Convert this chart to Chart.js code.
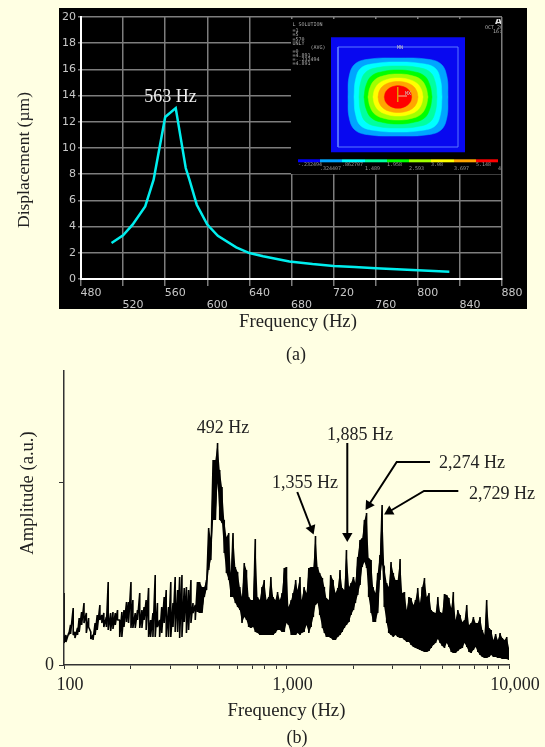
<!DOCTYPE html>
<html>
<head>
<meta charset="utf-8">
<title>Frequency response</title>
<script src="https://cdn.jsdelivr.net/npm/chart.js@4"></script>
<style>
    html, body { margin: 0; padding: 0; background: #FFFFE3; width: 545px; height: 747px; overflow: hidden; }
    canvas { position: absolute; left: 0; display: block; }
    .caption { position: absolute; font: 18px "Liberation Serif", serif; color: #222; transform: translateX(-50%); }
</style>
</head>
<body>
<canvas id="simChart" width="545" height="333" style="top:0"></canvas>
<canvas id="insetChart" width="210" height="155" style="left:291px;top:19px"></canvas>
<canvas id="spectrumChart" width="545" height="375" style="top:347px"></canvas>
<div class="caption" style="left:296px;top:344px">(a)</div>
<div class="caption" style="left:297px;top:727px">(b)</div>

<script>
// (a) simulated response
const simFreq = [509, 520, 529, 541, 549, 560, 570, 579.5, 583, 590, 600, 610, 627.5, 640, 653, 678, 700, 720, 740, 760, 780, 800, 830];
const simDisp = [2.75, 3.33, 4.15, 5.54, 7.58, 12.37, 13.05, 8.47, 7.58, 5.67, 4.15, 3.3, 2.41, 1.98, 1.73, 1.34, 1.14, 1.0, 0.91, 0.82, 0.74, 0.67, 0.56];
const simStaggered = [520, 600, 680, 760, 840];

// inset: contour rings, one quarter of each outline, red first
const ringX = [
    [13.7, 12.7, 9.7, 5.2, 0],
    [20, 18.6, 14.5, 7.8, 0],
    [25, 23.3, 18.5, 10, 0],
    [30, 28, 22.8, 12.5, 0],
    [34, 32, 26.5, 15, 0],
    [39, 37.5, 32, 19, 0],
    [44, 42.5, 37, 23, 0],
    [50, 49, 43, 28, 0]
];
const ringY = [
    [0, 4.3, 8, 10.4, 11.3],
    [0, 6.2, 11.4, 14.5, 15.5],
    [0, 7.7, 14, 17.8, 19],
    [0, 9.5, 17.5, 21.7, 23],
    [0, 11.5, 21, 25.5, 27],
    [0, 14, 25, 29.7, 31],
    [0, 17, 29, 33.5, 35],
    [0, 20, 33, 38, 39]
];
const ringColors = ['#FF0000', '#FFA500', '#FFFF00', '#A0FF00', '#00FF00', '#00FFA0', '#00FFFF', '#00A5FF'];
const plateX = [-67, 67];
const plateY = [-55.3, 59.7];
const frameX = [-60, 60];
const frameY = [-50, 50];
const barEdges = [-100, -78, -56, -33, -11, 11, 33, 56, 78, 100];
const barColors = ['#0000FF', '#00A5FF', '#00FFFF', '#00FFA0', '#00FF00', '#A0FF00', '#FFFF00', '#FFA500', '#FF0000'];
const barLabels = ['-.232494', '.324407', '.862707', '1.489', '1.958', '2.593', '3.08', '3.697', '5.148', '4.'];
const insetLines = ['L SOLUTION', '=1', '=5', '=570', 'UNLY', '      (AVG)', '=0', '=4.891', '=-.232494', '=4.891'];
const insetLineY = [72, 66, 62, 57.7, 53.7, 49.3, 45.3, 41.3, 37.3, 33.3];

// (b) measured spectrum: frequency, upper and lower reach of the trace
const specFreq = [
    100,102,105,107,110,112,115,117,120,123,126,129,132,135,138,141,145,148,151,155,
    158,162,166,170,174,178,182,186,191,195,200,204,209,214,219,224,229,234,240,245,
    251,257,263,269,275,282,288,295,302,309,316,324,331,339,347,355,363,372,380,389,
    398,407,417,427,437,447,457,468,479,490,501,513,525,537,550,562,575,589,603,617,
    631,646,661,676,692,708,724,741,759,776,794,813,832,851,871,891,912,933,955,977,
    1000,1020,1050,1070,1100,1120,1150,1170,1200,1230,1260,1290,1320,1350,1380,1410,1450,1480,1510,1550,
    1580,1620,1660,1700,1740,1780,1820,1860,1910,1950,2000,2040,2090,2140,2190,2240,2290,2340,2400,2450,
    2510,2570,2630,2690,2750,2820,2880,2950,3020,3090,3160,3240,3310,3390,3470,3550,3630,3720,3800,3890,
    3980,4070,4170,4270,4370,4470,4570,4680,4790,4900,5010,5130,5250,5370,5500,5620,5750,5890,6030,6170,
    6310,6460,6610,6760,6920,7080,7240,7410,7590,7760,7940,8130,8320,8510,8710,8910,9120,9330,9550,9770,
    10000
];
const specTop = [
    72,30,32,40,57,33,37,47,53,62,52,47,33,30,42,50,60,50,52,48,
    83,52,53,52,55,45,53,55,63,63,83,65,52,55,72,55,58,65,77,45,
    52,90,62,45,58,68,75,58,83,62,88,75,88,90,77,78,75,85,62,60,
    83,83,78,78,85,137,127,205,205,222,195,178,145,128,132,92,132,98,93,78,
    68,102,95,68,65,65,126,68,65,78,85,65,68,88,68,65,73,65,72,97,
    98,58,65,72,85,75,88,65,78,72,97,98,98,129,98,92,87,78,67,65,
    90,85,72,77,95,77,75,115,78,82,88,82,108,125,127,145,152,107,105,78,
    72,92,110,160,98,82,78,103,92,85,85,106,72,73,55,68,67,60,65,77,
    62,78,87,68,72,55,53,52,68,53,52,71,70,67,57,73,45,55,50,43,
    45,60,40,42,48,42,42,48,35,30,65,37,35,25,31,25,32,27,25,28,
    17
];
const specBottom = [
    22,23,30,31,30,27,30,33,40,42,32,38,26,25,30,35,45,42,38,38,
    35,34,36,40,45,28,28,38,43,42,37,37,37,45,37,37,45,35,28,28,
    28,28,38,28,32,42,28,28,28,38,33,33,27,28,43,32,35,42,52,45,
    53,52,52,68,75,95,105,145,145,182,145,142,112,92,85,68,68,62,58,55,
    42,48,45,38,37,38,33,32,30,30,30,30,30,30,30,32,35,35,33,33,
    42,40,30,30,30,32,30,32,33,40,32,38,48,60,62,50,37,32,28,28,
    27,25,25,28,30,33,37,40,43,50,55,62,70,80,98,103,97,68,52,43,
    43,52,85,102,58,42,32,30,28,30,28,27,27,25,23,23,20,18,17,16,
    15,14,13,13,14,17,20,22,26,22,19,17,22,18,13,12,12,14,16,17,
    22,18,13,12,15,18,13,10,8,7,7,8,10,8,8,7,7,6,6,6,
    5
];
const xTickValues = [100,200,300,400,500,600,700,800,900,1000,2000,3000,4000,5000,6000,7000,8000,9000,10000];

// peak labels on (b): text, frequency, amplitude
const peakText = ['492 Hz', '1,355 Hz', '1,885 Hz', '2,274 Hz', '2,729 Hz'];
const peakTextFreq = [518, 1211, 2140, 6820, 9300];
const peakTextAmp = [237, 182, 230, 202, 171];

// arrows on (b), tail to tip
const arrowFreq = [[1118, 1295], [1876, 1876], [4416, 3128, 2343], [5919, 4150, 2897]];
const arrowAmp = [[173, 136], [222, 129], [203, 203, 160], [174, 174, 153.5]];
const arrowTurn = [159, 180, 213, 240];

const serif = 'Liberation Serif';
const ink = '#222';

// black panel behind the axes of (a)
const panelPlugin = {
    id: 'panel',
    beforeDraw(chart) {
        const c = chart.ctx;
        c.save();
        c.fillStyle = '#000';
        c.fillRect(59, 8, 468, 301);
        c.restore();
    }
};

function textAt(c, text, x, y, font, color, align) {
    c.save();
    c.font = font;
    c.fillStyle = color;
    c.textAlign = align || 'center';
    c.textBaseline = 'middle';
    c.fillText(text, x, y);
    c.restore();
}

// axis titles that do not sit at the middle of their axis
function sideTitle(c, text, x, y, size) {
    c.save();
    c.translate(x, y);
    c.rotate(-Math.PI / 2);
    textAt(c, text, 0, 0, size + 'px "' + serif + '"', ink);
    c.restore();
}

new Chart(document.getElementById('simChart'), {
    type: 'scatter',
    plugins: [panelPlugin, {
        id: 'simLabel',
        afterDraw(chart) {
            const x = chart.scales.x.getPixelForValue(565);
            const y = chart.scales.y.getPixelForValue(13.9);
            textAt(chart.ctx, '563 Hz', x, y, '18px "' + serif + '"', '#eee');
            sideTitle(chart.ctx, 'Displacement (µm)', 24, 160, 17.5);
            textAt(chart.ctx, 'Frequency (Hz)', 298, 322, '18.7px "' + serif + '"', ink);
        }
    }],
    data: {
        datasets: [{
            data: simFreq.map((f, i) => ({ x: f, y: simDisp[i] })),
            showLine: true,
            borderColor: '#00EEEE',
            borderWidth: 2.5,
            pointRadius: 0
        }]
    },
    options: {
        responsive: false,
        animation: false,
        layout: { autoPadding: false, padding: { left: 14, right: 43, top: 17, bottom: 0 } },
        plugins: { legend: { display: false }, tooltip: { enabled: false } },
        scales: {
            x: {
                min: 480,
                max: 880,
                afterFit: s => { s.height = 54; },
                border: { color: '#fff', width: 2 },
                grid: { color: '#7d7d7d', lineWidth: 1.5, tickLength: 7, tickColor: '#7d7d7d' },
                ticks: {
                    stepSize: 40,
                    autoSkip: false,
                    maxRotation: 0,
                    labelOffset: 10,
                    padding: 1,
                    color: '#c8c8c8',
                    font: { family: 'DejaVu Sans', size: 11, lineHeight: 1.1 },
                    callback: v => simStaggered.includes(v) ? ['', String(v)] : String(v)
                }
            },
            y: {
                min: 0,
                max: 20,
                afterFit: s => { s.width = 67; },
                border: { color: '#fff', width: 2 },
                grid: { color: '#7d7d7d', lineWidth: 1.5, tickLength: 3, tickColor: '#7d7d7d' },
                ticks: {
                    stepSize: 2,
                    padding: 2,
                    color: '#c8c8c8',
                    font: { family: 'DejaVu Sans', size: 11 }
                }
            }
        }
    }
});

// one outline half, x ascending, sign picks upper or lower
function halfRing(xs, ys, sign) {
    const pts = [];
    for (let j = 0; j < xs.length; j++) pts.push({ x: -xs[j], y: sign * ys[j] });
    for (let j = xs.length - 2; j >= 0; j--) pts.push({ x: xs[j], y: sign * ys[j] });
    return pts;
}

const insetSets = [];
// triad and frame sit on top, so they come first
insetSets.push({ data: [{ x: -0.3, y: 10 }, { x: -0.3, y: -5 }], borderColor: '#E0A000', borderWidth: 1 });
insetSets.push({ data: [{ x: 0, y: 1 }, { x: 9, y: 1 }], borderColor: '#F0C0A0', borderWidth: 1 });
barColors.forEach((color, i) => {
    insetSets.push({ data: [{ x: barEdges[i], y: -63.8 }, { x: barEdges[i + 1], y: -63.8 }], borderColor: color, borderWidth: 3 });
});
insetSets.push({
    data: [
        { x: frameX[0], y: frameY[0] }, { x: frameX[1], y: frameY[0] },
        { x: frameX[1], y: frameY[1] }, { x: frameX[0], y: frameY[1] },
        { x: frameX[0], y: frameY[0] }
    ],
    borderColor: '#5A78FF',
    borderWidth: 1
});
ringColors.forEach((color, i) => {
    insetSets.push({ data: halfRing(ringX[i], ringY[i], 1), borderColor: color, borderWidth: 0.5, backgroundColor: color, fill: { value: -0.6 }, tension: 0.4 });
    insetSets.push({ data: halfRing(ringX[i], ringY[i], -1), borderColor: color, borderWidth: 0.5, backgroundColor: color, fill: { value: 0.6 }, tension: 0.4 });
});
insetSets.push({
    data: [{ x: plateX[0], y: plateY[1] }, { x: plateX[1], y: plateY[1] }],
    borderColor: '#0808F0',
    borderWidth: 0,
    backgroundColor: '#0808F0',
    fill: { value: plateY[0] }
});

new Chart(document.getElementById('insetChart'), {
    type: 'scatter',
    plugins: [{
        id: 'insetBack',
        beforeDraw(chart) {
            chart.ctx.fillStyle = '#000';
            chart.ctx.fillRect(0, 0, chart.width, chart.height);
        }
    }, {
        id: 'insetText',
        afterDraw(chart) {
            const c = chart.ctx, sx = chart.scales.x, sy = chart.scales.y;
            const small = '5px "DejaVu Sans Mono"';
            insetLines.forEach((t, i) => {
                textAt(c, t, sx.getPixelForValue(-105.5), sy.getPixelForValue(insetLineY[i]), small, '#aaa', 'left');
            });
            barLabels.forEach((t, i) => {
                const y = i % 2 ? -66.5 - 5 : -66.5 - 1.5;
                textAt(c, t, sx.getPixelForValue(barEdges[i]), sy.getPixelForValue(y), small, '#999', 'left');
            });
            textAt(c, 'OCT 20', sx.getPixelForValue(87), sy.getPixelForValue(69), small, '#aaa', 'left');
            textAt(c, '16:', sx.getPixelForValue(95), sy.getPixelForValue(65), small, '#aaa', 'left');
            textAt(c, 'MN', sx.getPixelForValue(2), sy.getPixelForValue(49), small, '#ccc');
            textAt(c, 'MX', sx.getPixelForValue(10), sy.getPixelForValue(3), small, '#ccc');
            textAt(c, 'AN', sx.getPixelForValue(97), sy.getPixelForValue(75), 'bold 9px "DejaVu Sans"', '#ddd', 'left');
        }
    }],
    data: { datasets: insetSets.map(d => Object.assign({ showLine: true, pointRadius: 0 }, d)) },
    options: {
        responsive: false,
        animation: false,
        layout: { autoPadding: false, padding: 0 },
        plugins: { legend: { display: false }, tooltip: { enabled: false } },
        scales: {
            x: { display: false, min: -107, max: 103 },
            y: { display: false, min: -77, max: 78 }
        }
    }
});

// the trace runs down to the lower reach and back up at each frequency
const specTrace = [];
specFreq.forEach((f, i) => {
    specTrace.push({ x: f, y: specTop[i] });
    specTrace.push({ x: f, y: specBottom[i] });
});

// from the main resonance upward the trace is a solid band
const bandStart = 60;
const bandUpper = specFreq.map((f, i) => ({ x: f, y: specTop[i] })).slice(bandStart);
const bandLower = specFreq.map((f, i) => ({ x: f, y: specBottom[i] })).slice(bandStart);

const arrowSets = arrowFreq.map((fs, n) => ({
    data: fs.map((f, i) => ({ x: f, y: arrowAmp[n][i] })),
    showLine: true,
    borderColor: '#000',
    borderWidth: 2,
    pointBackgroundColor: '#000',
    pointBorderWidth: 0,
    pointStyle: 'triangle',
    pointRotation: arrowTurn[n],
    pointRadius: fs.map((f, i) => i === fs.length - 1 ? 6 : 0)
}));

new Chart(document.getElementById('spectrumChart'), {
    type: 'scatter',
    plugins: [{
        id: 'peakText',
        afterDraw(chart) {
            peakText.forEach((t, i) => {
                const x = chart.scales.x.getPixelForValue(peakTextFreq[i]);
                const y = chart.scales.y.getPixelForValue(peakTextAmp[i]);
                textAt(chart.ctx, t, x, y, '18px "' + serif + '"', ink);
            });
            sideTitle(chart.ctx, 'Amplitude (a.u.)', 28, 146, 18.6);
        }
    }],
    data: {
        datasets: arrowSets.concat([
            {
                data: specTrace,
                showLine: true,
                borderColor: '#000',
                borderWidth: 1.6,
                borderJoinStyle: 'bevel',
                pointRadius: 0
            },
            {
                data: bandUpper,
                showLine: true,
                borderWidth: 0,
                pointRadius: 0,
                backgroundColor: '#000',
                fill: '+1'
            },
            {
                data: bandLower,
                showLine: true,
                borderWidth: 0,
                pointRadius: 0
            }
        ])
    },
    options: {
        responsive: false,
        animation: false,
        layout: { autoPadding: false, padding: { left: 19, right: 36, top: 24, bottom: 0 } },
        plugins: { legend: { display: false }, tooltip: { enabled: false } },
        scales: {
            x: {
                type: 'logarithmic',
                min: 100,
                max: 10000,
                afterFit: s => { s.height = 57; },
                afterBuildTicks: s => { s.ticks = xTickValues.map(v => ({ value: v })); },
                border: { color: '#333', width: 1.5 },
                grid: { drawOnChartArea: false, tickLength: 4, tickColor: '#333' },
                ticks: {
                    autoSkip: false,
                    maxRotation: 0,
                    labelOffset: 6,
                    padding: 5,
                    color: ink,
                    font: { family: serif, size: 18 },
                    callback: v => [100, 1000, 10000].includes(v) ? v.toLocaleString('en-US') : ''
                },
                title: {
                    display: true,
                    text: 'Frequency (Hz)',
                    color: ink,
                    padding: 0,
                    font: { family: serif, size: 18.7 }
                }
            },
            y: {
                min: 0,
                max: 294,
                afterFit: s => { s.width = 45; },
                afterBuildTicks: s => { s.ticks = [{ value: 0 }, { value: 183 }]; },
                border: { color: '#333', width: 1.5 },
                grid: { drawOnChartArea: false, tickLength: 5, tickColor: '#333' },
                ticks: {
                    padding: 5,
                    color: ink,
                    font: { family: serif, size: 18 },
                    callback: v => v === 0 ? '0' : ''
                }
            }
        }
    }
});
</script>
</body>
</html>
